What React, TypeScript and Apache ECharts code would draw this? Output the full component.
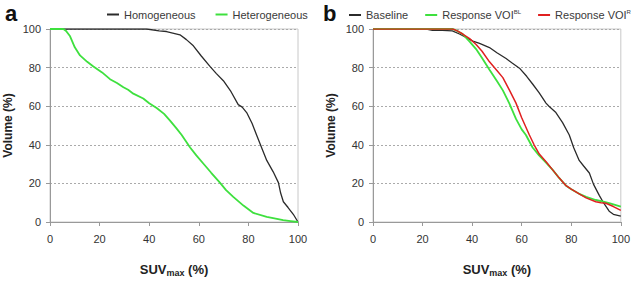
import React, { useEffect, useRef } from "react";
import * as echarts from "echarts";

const xTicks = [0, 20, 40, 60, 80, 100];
const yTicks = [0, 20, 40, 60, 80, 100];

// Panel a
const homX = [0, 39, 44, 47, 52.4, 55, 57.8, 61, 64.5, 67, 69.9, 73, 75.9, 77.5, 79.3, 81.5, 83.3, 85.5, 87.4, 90, 92.1, 93, 94.1, 96, 98.1, 100];
const homY = [100, 100, 99, 98.7, 97, 94.5, 91.3, 86, 80.6, 77, 73.2, 67.5, 60.8, 59.5, 56.7, 51, 45.1, 38, 31.9, 26, 20.4, 15, 10.5, 7.5, 4, 0];
const hetX = [0, 5.4, 6.5, 8.1, 10, 12.1, 15, 17.5, 21, 24.2, 27, 29.6, 31.5, 33.6, 37.6, 40, 43, 46, 48.4, 51, 53.1, 56.5, 59, 61.8, 65, 68.5, 71, 73.9, 78, 82, 87.4, 91, 94, 97, 100];
const hetY = [100, 100, 99, 96.2, 90.5, 86.3, 83, 80.6, 77.5, 74, 72, 69.8, 68.5, 66.5, 64, 61.5, 59.1, 56, 52.5, 48.5, 45.1, 38.6, 34.5, 30.3, 25.5, 20.4, 16.5, 13, 8.5, 4.7, 2.6, 1.8, 1, 0.5, 0];

// Panel b
const baseX = [0, 21.5, 24, 28, 32, 34.9, 37, 40.3, 43, 47, 50, 53.7, 56, 59.1, 62, 64.4, 67, 69.8, 71, 73.8, 76.5, 79.2, 81, 83.2, 85, 87.3, 89, 91.3, 93, 95.3, 97, 100];
const baseY = [100, 100, 99.3, 99.3, 99, 97.4, 96, 93.7, 92.5, 90.4, 87.7, 84.7, 82.5, 79.7, 75.5, 71.5, 67, 61.6, 60, 56.7, 51.5, 45.1, 38.5, 31.9, 29, 25.4, 19.5, 13.8, 10, 5.6, 4, 3.1];
const blX = [0, 32.2, 34, 36.2, 39, 41.6, 44, 47, 50, 52.4, 55, 57.7, 60, 61.7, 64.4, 67, 70, 72.5, 75, 77.9, 80, 83.2, 86, 89.9, 93, 96, 100];
const blY = [100, 100, 99, 97.4, 93.5, 89.6, 85, 78.9, 73, 68.2, 61.5, 53.4, 48, 45.1, 38.6, 34.5, 30.5, 27, 23, 18.8, 17, 14.6, 13, 11.4, 10.5, 9.5, 8];
const rX = [0, 32.2, 34, 36.2, 39, 41.6, 44, 47, 50, 52.4, 55, 57.7, 60, 63.1, 65, 67.1, 70, 72.5, 75, 77.9, 80, 83.2, 86, 89.9, 92, 94, 97, 100];
const rY = [100, 100, 99, 97.4, 95, 92, 88.5, 83, 78.5, 74.8, 68.5, 61.6, 54, 45.1, 40, 35.2, 31, 27, 23, 18.8, 17, 14.6, 12.5, 10.5, 10, 9.7, 8, 6];

const pairs = (xs: number[], ys: number[]) => xs.map((x, i) => [x, ys[i]]);

const FONT = "Liberation Sans";
const BLACK = "#2b2b2b";
const GREEN = "#3ee03e";
const RED = "#e02020";

export default function App() {
  const ref = useRef<HTMLDivElement>(null);
  useEffect(() => {
    const chart = echarts.init(ref.current!, null, { renderer: "svg" });
    const mkX = (gi: number) => ({
      type: "value",
      gridIndex: gi,
      min: xTicks[0],
      max: xTicks[xTicks.length - 1],
      interval: 20,
      name: "SUV{sub|max} (%)",
      nameLocation: "middle",
      nameGap: 40,
      nameTextStyle: {
        fontFamily: FONT,
        fontWeight: "bold",
        fontSize: 13,
        color: "#222",
        rich: {
          sub: { fontFamily: FONT, fontWeight: "bold", fontSize: 9, color: "#222", padding: [6, 0, 0, 0] },
        },
      },
      axisLine: { show: true, lineStyle: { color: "#999", width: 1 } },
      axisTick: { show: true, length: 4, lineStyle: { color: "#999" } },
      axisLabel: { fontFamily: FONT, fontSize: 11, color: "#333", margin: 11 },
      splitLine: { show: false },
    });
    const mkY = (gi: number) => ({
      type: "value",
      gridIndex: gi,
      min: yTicks[0],
      max: yTicks[yTicks.length - 1],
      interval: 20,
      name: "Volume (%)",
      nameLocation: "middle",
      nameGap: 36,
      nameTextStyle: { fontFamily: FONT, fontWeight: "bold", fontSize: 12, color: "#222" },
      axisLine: { show: true, lineStyle: { color: "#999", width: 1 } },
      axisTick: { show: true, length: 4, lineStyle: { color: "#999" } },
      axisLabel: { fontFamily: FONT, fontSize: 11, color: "#333", margin: 9 },
      splitLine: { show: true, lineStyle: { color: "#aaa", type: [2, 2], width: 1 } },
    });
    const line = (name: string, gi: number, data: number[][], color: string, width = 1.5) => ({
      type: "line",
      name,
      xAxisIndex: gi,
      yAxisIndex: gi,
      data,
      showSymbol: false,
      symbol: "none",
      lineStyle: { color, width },
      itemStyle: { color },
      silent: true,
    });
    const legendText = {
      fontFamily: FONT,
      fontSize: 11,
      color: "#3a3a3a",
      rich: {
        sup: { fontFamily: FONT, fontSize: 6, color: "#3a3a3a", padding: [0, 0, 6, 0] },
      },
    };
    chart.setOption({
      animation: false,
      backgroundColor: "#fff",
      grid: [
        { left: 50, top: 29, width: 248, height: 202, show: true, borderColor: "#c8c8c8", borderWidth: 1, backgroundColor: "transparent" },
        { left: 373, top: 29, width: 248, height: 202, show: true, borderColor: "#c8c8c8", borderWidth: 1, backgroundColor: "transparent" },
      ],
      xAxis: [mkX(0), mkX(1)],
      yAxis: [mkY(0), mkY(1)],
      legend: [
        {
          data: ["Homogeneous", "Heterogeneous"],
          left: 107,
          top: 9,
          padding: 0,
          icon: "rect",
          itemWidth: 12,
          itemHeight: 2,
          itemGap: 20,
          textStyle: legendText,
          selectedMode: false,
        },
        {
          data: ["Baseline", "Response VOI BL", "Response VOI R"],
          left: 349,
          top: 9,
          padding: 0,
          icon: "rect",
          itemWidth: 12,
          itemHeight: 2,
          itemGap: 17,
          textStyle: legendText,
          selectedMode: false,
          formatter: (n: string) =>
            n === "Response VOI BL" ? "Response VOI{sup|BL}" : n === "Response VOI R" ? "Response VOI{sup|R}" : n,
        },
      ],
      graphic: [
        { type: "text", left: 5, top: 2, style: { text: "a", fontFamily: FONT, fontWeight: "bold", fontSize: 22, fill: "#111" } },
        { type: "text", left: 323, top: 2, style: { text: "b", fontFamily: FONT, fontWeight: "bold", fontSize: 22, fill: "#111" } },
      ],
      series: [
        line("Homogeneous", 0, pairs(homX, homY), BLACK, 1.3),
        line("Heterogeneous", 0, pairs(hetX, hetY), GREEN, 1.8),
        line("Baseline", 1, pairs(baseX, baseY), BLACK, 1.3),
        line("Response VOI BL", 1, pairs(blX, blY), GREEN, 1.8),
        line("Response VOI R", 1, pairs(rX, rY), RED, 1.5),
      ],
    });
    return () => chart.dispose();
  }, []);
  return (
    <div
      ref={ref}
      style={{ position: "fixed", left: 0, top: 0, width: 633, height: 282, background: "#fff" }}
    />
  );
}
